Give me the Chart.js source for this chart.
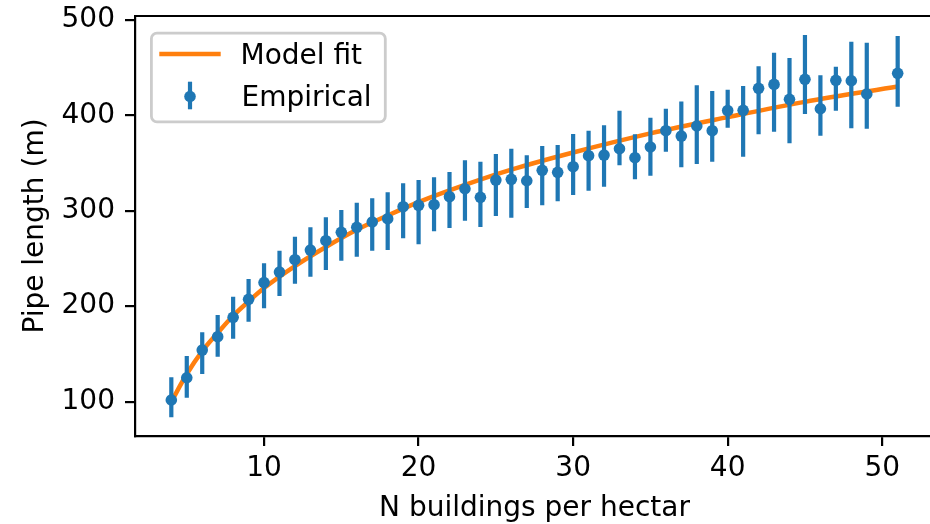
<!DOCTYPE html>
<html>
<head>
<meta charset="utf-8">
<script src="https://cdn.jsdelivr.net/npm/chart.js@4.4.0/dist/chart.umd.min.js"></script>
<style>
  html, body { margin: 0; padding: 0; overflow: hidden; background: #fff; }
  canvas { display: block; }
</style>
</head>
<body>
<canvas id="chart" width="940" height="524"></canvas>
<script>
/* ── Data ────────────────────────────────────────────── */
const xEmp = [4, 5, 6, 7, 8, 9, 10, 11, 12, 13, 14, 15, 16, 17, 18, 19, 20, 21, 22, 23, 24, 25, 26, 27,
  28, 29, 30, 31, 32, 33, 34, 35, 36, 37, 38, 39, 40, 41, 42, 43, 44, 45, 46, 47, 48, 49, 51];
const yEmp = [101.8, 125.1, 154.1, 168.1, 188.4, 207.2, 224.8, 235.8, 248.7, 258.8, 268.6, 277.4,
  282.6, 288.2, 291.6, 304.2, 305.6, 306.3, 314.7, 323.0, 314.0, 332.1, 332.9, 331.4, 342.3, 340.2,
  346.1, 357.6, 358.3, 364.9, 355.5, 366.7, 383.8, 378.2, 388.7, 383.8, 404.9, 405.1, 428.2, 432.3,
  416.6, 437.6, 406.8, 436.5, 436.1, 422.2, 443.9];
const yEmpHigh = [125.5, 147.9, 172.7, 190.8, 209.9, 228.5, 244.9, 258.1, 272.8, 282.6, 293.1, 300.7,
  308.4, 313.0, 319.3, 328.7, 332.1, 335.0, 340.5, 352.8, 351.3, 359.4, 364.9, 358.0, 367.7, 368.8,
  380.3, 383.8, 389.4, 404.7, 380.0, 397.4, 406.8, 414.5, 431.3, 425.3, 426.6, 430.6, 451.2, 465.4,
  459.9, 484.0, 441.8, 450.8, 477.0, 475.9, 482.9];
const yEmpLow = [83.7, 104.2, 129.0, 147.1, 166.0, 183.8, 197.9, 210.7, 223.6, 230.9, 237.9, 247.6,
  251.8, 258.1, 258.8, 271.1, 264.9, 278.4, 281.9, 289.5, 282.9, 294.4, 292.7, 302.8, 305.6, 309.8,
  316.4, 320.9, 325.1, 347.5, 332.9, 336.6, 361.8, 345.4, 348.9, 351.3, 386.8, 356.5, 380.0, 382.7,
  370.6, 401.2, 378.5, 404.7, 386.3, 385.9, 408.9];

// model curve
const xFit = [4, 5, 6, 7, 8, 9, 10, 12, 14, 16, 18, 20, 23, 26, 30, 35, 40, 45, 51];
const yFit = [100, 129, 153, 172, 190, 205, 219, 242, 262, 280, 295, 309, 327, 343, 361, 381, 398, 414, 430];

const xTicks = [10, 20, 30, 40, 50];
const yTicks = [100, 200, 300, 400, 500];

const BLUE = '#1f77b4';
const ORANGE = '#ff7f0e';
const FONT = 'DejaVu Sans';

/* ── Plugins ─────────────────────────────────────────── */
const errorBars = {
  id: 'errorBars',
  beforeDatasetDraw(chart, args) {
    if (args.index !== 0) return;
    const { ctx, scales: { x, y } } = chart;
    ctx.save();
    ctx.strokeStyle = BLUE;
    ctx.lineWidth = 4.2;
    ctx.lineCap = 'butt';
    ctx.beginPath();
    xEmp.forEach((v, i) => {
      const px = x.getPixelForValue(v);
      ctx.moveTo(px, y.getPixelForValue(yEmpLow[i]));
      ctx.lineTo(px, y.getPixelForValue(yEmpHigh[i]));
    });
    ctx.stroke();
    ctx.restore();
  }
};

const frameAndLegend = {
  id: 'frameAndLegend',
  afterDraw(chart) {
    const { ctx, chartArea: a } = chart;
    ctx.save();
    // top spine; the right one sits past the 930px picture edge
    ctx.strokeStyle = '#000';
    ctx.lineWidth = 2.2;
    ctx.beginPath();
    ctx.moveTo(a.left, a.top);
    ctx.lineTo(a.right, a.top);
    ctx.stroke();

    // legend box
    ctx.beginPath();
    ctx.roundRect(151.4, 33.1, 233.9, 88.8, 5.6);
    ctx.fillStyle = 'rgba(255,255,255,0.8)';
    ctx.fill();
    ctx.strokeStyle = '#cccccc';
    ctx.lineWidth = 2.8;
    ctx.stroke();

    const [emp, fit] = chart.data.datasets;
    ctx.font = '28px "' + FONT + '"';
    ctx.textBaseline = 'alphabetic';

    // Model fit
    ctx.strokeStyle = ORANGE;
    ctx.lineWidth = 4.5;
    ctx.beginPath();
    ctx.moveTo(159.3, 54);
    ctx.lineTo(220.7, 54);
    ctx.stroke();
    ctx.fillStyle = '#000';
    ctx.fillText(fit.label, 240.5, 64);

    // Empirical
    ctx.strokeStyle = BLUE;
    ctx.lineWidth = 4.2;
    ctx.beginPath();
    ctx.moveTo(190, 81.7);
    ctx.lineTo(190, 109.3);
    ctx.stroke();
    ctx.beginPath();
    ctx.arc(190, 96.5, 5.8, 0, Math.PI * 2);
    ctx.fillStyle = BLUE;
    ctx.fill();
    ctx.fillStyle = '#000';
    ctx.fillText(emp.label, 241.5, 106);
    ctx.restore();
  }
};

/* ── Chart ───────────────────────────────────────────── */
const tickFont = { family: FONT, size: 28 };

new Chart(document.getElementById('chart'), {
  type: 'scatter',
  data: {
    datasets: [
      {
        label: 'Empirical',
        data: xEmp.map((x, i) => ({ x, y: yEmp[i] })),
        backgroundColor: BLUE,
        borderWidth: 0,
        pointRadius: 5.8,
        pointHoverRadius: 5.8
      },
      {
        label: 'Model fit',
        data: xFit.map((x, i) => ({ x, y: yFit[i] })),
        showLine: true,
        borderColor: ORANGE,
        borderWidth: 4.5,
        pointRadius: 0,
        cubicInterpolationMode: 'monotone',
        fill: false
      }
    ]
  },
  options: {
    responsive: false,
    animation: false,
    events: [],
    layout: { padding: { left: 0, right: 6, top: 16, bottom: 0 } },
    plugins: { legend: { display: false }, tooltip: { enabled: false } },
    scales: {
      x: {
        type: 'linear',
        min: 1.65,
        max: 53.35,
        afterBuildTicks: s => { s.ticks = xTicks.map(value => ({ value })); },
        afterFit: s => { s.height = 88; s.paddingLeft = 0; s.paddingRight = 0; },
        grid: { display: true, drawOnChartArea: false, drawTicks: true, tickLength: 10, color: '#000', lineWidth: 2.2 },
        border: { display: true, color: '#000', width: 2.2 },
        ticks: { font: tickFont, color: '#000', padding: 6, maxRotation: 0, autoSkip: false },
        title: {
          display: true,
          text: 'N buildings per hectar',
          font: { family: FONT, size: 28, lineHeight: 1 },
          color: '#000',
          padding: { top: 0, bottom: 1 }
        }
      },
      y: {
        type: 'linear',
        min: 64.1,
        max: 503.9,
        afterBuildTicks: s => { s.ticks = yTicks.map(value => ({ value })); },
        afterFit: s => { s.width = 135; s.paddingTop = 0; s.paddingBottom = 0; },
        grid: { display: true, drawOnChartArea: false, drawTicks: true, tickLength: 10, color: '#000', lineWidth: 2.2 },
        border: { display: true, color: '#000', width: 2.2 },
        ticks: { font: tickFont, color: '#000', padding: 10 },
        title: {
          display: true,
          text: 'Pipe length (m)',
          font: { family: FONT, size: 28, lineHeight: 1.2 },
          color: '#000',
          padding: { top: 19, bottom: 0 }
        }
      }
    }
  },
  plugins: [errorBars, frameAndLegend]
});
</script>
</body>
</html>
